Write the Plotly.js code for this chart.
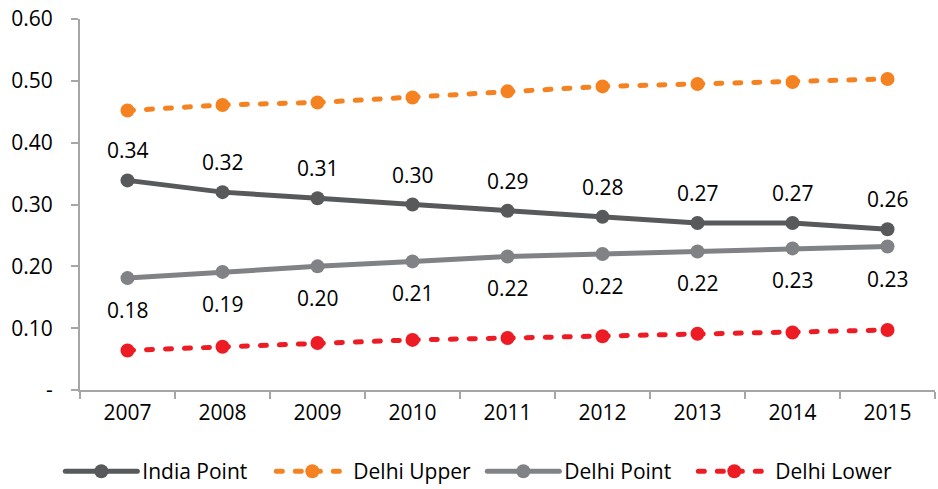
<!DOCTYPE html>
<html>
<head>
<meta charset="utf-8">
<script src="https://cdn.plot.ly/plotly-3.0.1.min.js"></script>
<style>
html,body{margin:0;padding:0;background:#fff;}
#chart{width:938px;height:489px;}
.scatterlayer .js-line, .legendlines path {stroke-linecap: round;}
</style>
</head>
<body>
<div id="chart"></div>
<script>
const years = ['2007','2008','2009','2010','2011','2012','2013','2014','2015'];
const indiaPoint = [0.339, 0.320, 0.310, 0.300, 0.290, 0.280, 0.270, 0.270, 0.260];
const delhiUpper = [0.452, 0.461, 0.465, 0.473, 0.483, 0.491, 0.495, 0.498, 0.503];
const delhiPoint = [0.181, 0.191, 0.200, 0.208, 0.216, 0.220, 0.224, 0.229, 0.232];
const delhiLower = [0.064, 0.070, 0.076, 0.081, 0.084, 0.087, 0.091, 0.093, 0.097];
const yTickVals = [0, 0.1, 0.2, 0.3, 0.4, 0.5, 0.6];
const yTickText = ['-', '0.10', '0.20', '0.30', '0.40', '0.50', '0.60'];

const FONT = '"Open Sans", "Noto Sans", sans-serif';
const FS = 21;

function series(name, y, color, dash) {
  return {
    type: 'scatter', mode: 'lines+markers', name: name,
    x: years, y: y,
    line: {color: color, width: 5, dash: dash},
    marker: {color: color, size: 14},
    hoverinfo: 'skip'
  };
}

const traces = [
  series('India Point', indiaPoint, '#58595b', 'solid'),
  series('Delhi Upper', delhiUpper, '#f58220', '6px,13px'),
  series('Delhi Point', delhiPoint, '#808285', 'solid'),
  series('Delhi Lower', delhiLower, '#ed1c24', '6px,13px')
];

const annotations = [];
years.forEach((yr, i) => {
  annotations.push({xref: 'x', yref: 'y', x: i, y: indiaPoint[i], text: indiaPoint[i].toFixed(2), showarrow: false, yshift: 30, font: {family: FONT, size: FS, color: '#000'}});
  annotations.push({xref: 'x', yref: 'y', x: i, y: delhiPoint[i], text: delhiPoint[i].toFixed(2), showarrow: false, yshift: -32, font: {family: FONT, size: FS, color: '#000'}});
});

const layout = {
  width: 938, height: 489,
  margin: {l: 80, r: 3, t: 19, b: 99, autoexpand: false},
  paper_bgcolor: '#fff', plot_bgcolor: '#fff',
  font: {family: FONT, size: FS, color: '#000'},
  showlegend: true,
  legend: {
    orientation: 'h', x: -0.023, xanchor: 'left', y: -0.22, yanchor: 'middle',
    entrywidth: 124, entrywidthmode: 'pixels', itemwidth: 72,
    font: {family: FONT, size: FS, color: '#000'}
  },
  xaxis: {
    type: 'category', range: [-0.5, 8.5],
    showline: true, linecolor: '#a6a6a6', linewidth: 2,
    ticks: 'outside', tickson: 'boundaries', ticklen: 7, tickcolor: '#a6a6a6', tickwidth: 2,
    ticklabelstandoff: 3,
    showgrid: false, zeroline: false,
    tickfont: {family: FONT, size: FS, color: '#000'}
  },
  yaxis: {
    range: [0, 0.6], tickvals: yTickVals, ticktext: yTickText,
    showline: true, linecolor: '#a6a6a6', linewidth: 2,
    ticks: 'outside', ticklen: 7, tickcolor: '#a6a6a6', tickwidth: 2,
    ticklabelstandoff: 14,
    showgrid: false, zeroline: false,
    tickfont: {family: FONT, size: FS, color: '#000'}
  },
  annotations: annotations
};

Plotly.newPlot('chart', traces, layout, {displayModeBar: false, staticPlot: true});
</script>
</body>
</html>
